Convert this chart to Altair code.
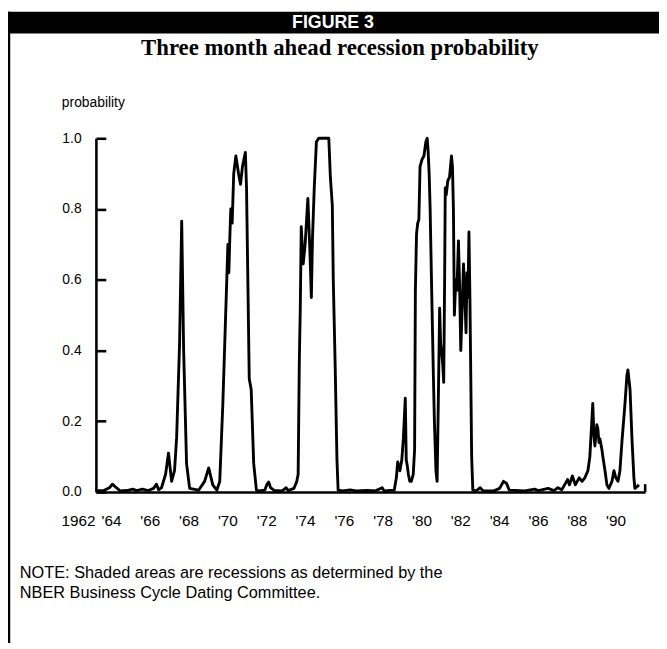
import altair as alt
import pandas as pd

header_text = "FIGURE 3"
title_text = "Three month ahead recession probability"
y_title = "probability"
note_line1 = "NOTE: Shaded areas are recessions as determined by the"
note_line2 = "NBER Business Cycle Dating Committee."

years = [
    1963.20, 1963.60, 1963.90, 1964.05, 1964.25, 1964.45, 1964.80, 1965.10, 1965.30, 1965.60,
    1965.90, 1966.17, 1966.32, 1966.43, 1966.58, 1966.79, 1966.94, 1967.10,
    1967.25, 1967.36, 1967.51, 1967.62, 1967.72, 1967.87, 1968.03, 1968.49, 1968.80, 1969.01,
    1969.22, 1969.43,
    1969.58, 1969.74, 1969.89, 1969.96, 1970.00, 1970.05, 1970.10, 1970.15, 1970.22, 1970.30,
    1970.41, 1970.55, 1970.65, 1970.75, 1970.90, 1970.96, 1971.02, 1971.10, 1971.20, 1971.33,
    1971.47,
    1971.60, 1971.90, 1972.00, 1972.10, 1972.20, 1972.40, 1972.80, 1973.00, 1973.10, 1973.40,
    1973.55,
    1973.62, 1973.68, 1973.73, 1973.78, 1973.88, 1973.98, 1974.12, 1974.22, 1974.30, 1974.36,
    1974.45, 1974.56, 1974.68, 1974.95, 1975.20, 1975.28, 1975.38, 1975.43, 1975.53, 1975.62,
    1975.68,
    1975.90, 1976.30, 1976.60, 1977.20, 1977.60, 1977.95, 1978.05, 1978.57,
    1978.68, 1978.75, 1978.86, 1978.96, 1979.04, 1979.14, 1979.19, 1979.24, 1979.30, 1979.37,
    1979.45, 1979.55, 1979.62, 1979.66, 1979.72, 1979.78, 1979.84, 1979.90, 1980.00, 1980.10,
    1980.20, 1980.27, 1980.32, 1980.37, 1980.42, 1980.50, 1980.58, 1980.64, 1980.72, 1980.78,
    1980.84, 1980.91, 1980.96, 1981.02, 1981.07, 1981.12, 1981.17, 1981.20, 1981.25, 1981.33,
    1981.42, 1981.52, 1981.57, 1981.62, 1981.67, 1981.74, 1981.80, 1981.88, 1981.94, 1982.00,
    1982.07, 1982.14, 1982.21, 1982.27, 1982.32, 1982.37, 1982.42, 1982.47, 1982.52, 1982.56,
    1982.62,
    1982.80, 1983.00, 1983.15, 1983.70, 1984.00, 1984.20, 1984.35, 1984.50, 1985.30, 1985.80,
    1986.00, 1986.50, 1986.80, 1987.00, 1987.20, 1987.50, 1987.60, 1987.75, 1987.90, 1988.10,
    1988.25,
    1988.39, 1988.55, 1988.65, 1988.75, 1988.80, 1988.86, 1988.91, 1989.01, 1989.06, 1989.12,
    1989.17, 1989.27, 1989.32, 1989.43, 1989.53, 1989.63, 1989.79, 1989.89, 1989.99, 1990.10,
    1990.20, 1990.30, 1990.46, 1990.56, 1990.61, 1990.72, 1990.82, 1990.92, 1990.97, 1991.08,
    1991.18,
]

probs = [
    0.003, 0.004, 0.012, 0.022, 0.012, 0.003, 0.004, 0.008, 0.004, 0.008,
    0.004, 0.010, 0.022, 0.006, 0.012, 0.05, 0.11, 0.03,
    0.06, 0.155, 0.42, 0.766, 0.40, 0.08, 0.01, 0.005, 0.03, 0.068,
    0.02, 0.005,
    0.03, 0.25, 0.51, 0.63, 0.70, 0.62, 0.72, 0.80, 0.76, 0.90,
    0.95, 0.90, 0.87, 0.92, 0.96, 0.86, 0.63, 0.32, 0.29, 0.08,
    0.005,
    0.003, 0.005, 0.02, 0.028, 0.012, 0.004, 0.003, 0.012, 0.004, 0.01,
    0.03,
    0.05, 0.37, 0.52, 0.75, 0.645, 0.70, 0.83, 0.69, 0.55, 0.72,
    0.86, 0.99, 1.0, 1.0, 1.0, 0.89, 0.81, 0.60, 0.35, 0.09,
    0.005,
    0.003, 0.006, 0.003, 0.004, 0.003, 0.012, 0.003, 0.005,
    0.04, 0.085, 0.06, 0.09, 0.15, 0.265, 0.09, 0.075, 0.05, 0.03,
    0.03, 0.05, 0.12, 0.57, 0.73, 0.76, 0.77, 0.92, 0.94, 0.95,
    0.99, 1.0, 0.96, 0.90, 0.80, 0.57, 0.35, 0.20, 0.06, 0.03,
    0.25, 0.52, 0.42, 0.39, 0.36, 0.31, 0.62, 0.86, 0.84, 0.88,
    0.89, 0.95, 0.92, 0.80, 0.50, 0.60, 0.57, 0.71, 0.58, 0.40,
    0.52, 0.645, 0.55, 0.45, 0.62, 0.55, 0.735, 0.55, 0.30, 0.10,
    0.005,
    0.003, 0.012, 0.003, 0.003, 0.01, 0.03, 0.025, 0.005, 0.003, 0.008,
    0.004, 0.01, 0.004, 0.012, 0.006, 0.035, 0.02, 0.045, 0.02, 0.04,
    0.03,
    0.04, 0.06, 0.10, 0.20, 0.25, 0.16, 0.13, 0.19, 0.18, 0.14,
    0.15, 0.12, 0.10, 0.06, 0.02, 0.01, 0.03, 0.06, 0.04, 0.03,
    0.06, 0.14, 0.25, 0.33, 0.345, 0.29, 0.15, 0.04, 0.01, 0.015,
    0.02,
]

x_label_years = [1962, 1964, 1966, 1968, 1970, 1972, 1974, 1976, 1978, 1980, 1982, 1984, 1986, 1988, 1990]
x_labels = ["1962", "'64", "'66", "'68", "'70", "'72", "'74", "'76", "'78", "'80", "'82", "'84", "'86", "'88", "'90"]
y_label_values = [0.0, 0.2, 0.4, 0.6, 0.8, 1.0]
x_domain = [1963.2, 1991.5]
end_tick = [0.0, 0.022]

W, H = 556, 358
SANS = "Liberation Sans"
SERIF = "Liberation Serif"

xscale = alt.Scale(domain=x_domain, nice=False, zero=False)
yscale = alt.Scale(domain=[0, 1], nice=False, zero=True)

df = pd.DataFrame({"year": years, "p": probs})
one = pd.DataFrame({"k": [0]})

# inward ticks on the y axis are drawn as the first 10px of each gridline
line = alt.Chart(df).mark_line(color="black", strokeWidth=2.9, strokeJoin="round").encode(
    x=alt.X("year:Q", scale=xscale,
            axis=alt.Axis(labels=False, ticks=False, grid=False, title=None,
                          domainColor="black", domainWidth=2.6)),
    y=alt.Y("p:Q", scale=yscale,
            axis=alt.Axis(values=y_label_values, format=".1f", ticks=False,
                          grid=True, gridColor="black", gridWidth=2.6, gridOpacity=1,
                          gridDash=[10, 3000],
                          labelPadding=15, labelFontSize=14, labelFont=SANS, labelColor="black",
                          domainColor="black", domainWidth=2.6,
                          title=y_title, titleAngle=0, titleAlign="left", titleBaseline="middle",
                          titleX=-35, titleY=-36, titleFontSize=14, titleFont=SANS,
                          titleFontWeight="normal", titleColor="black")),
)

endtick = alt.Chart(pd.DataFrame({"year": [x_domain[1], x_domain[1]], "p": end_tick})).mark_line(
    color="black", strokeWidth=2.6).encode(
    x=alt.X("year:Q", scale=xscale),
    y=alt.Y("p:Q", scale=yscale),
)

xl_df = pd.DataFrame({"year": x_label_years, "label": x_labels})

xlab = alt.Chart(xl_df.iloc[1:]).mark_text(
    fontSize=15.5, font=SANS, color="black", baseline="middle", align="center").encode(
    x=alt.X("year:Q", scale=xscale),
    y=alt.value(H + 29),
    text="label:N",
)

xlab_first = alt.Chart(xl_df.iloc[:1]).mark_text(
    fontSize=15.5, font=SANS, color="black", baseline="middle", align="center", dx=6).encode(
    x=alt.X("year:Q", scale=xscale),
    y=alt.value(H + 29),
    text="label:N",
)

bar = alt.Chart(one).mark_rect(color="black").encode(
    x=alt.value(-89), x2=alt.value(570), y=alt.value(-128), y2=alt.value(-106))

header = alt.Chart(one).mark_text(text=header_text, color="white", font=SANS, fontWeight="bold",
                                  fontSize=18, align="center", baseline="middle").encode(
    x=alt.value(240), y=alt.value(-117))

title = alt.Chart(one).mark_text(text=title_text, color="black", font=SERIF, fontWeight="bold",
                                 fontSize=23, align="center", baseline="middle").encode(
    x=alt.value(247), y=alt.value(-91))

border = alt.Chart(one).mark_rule(color="black", strokeWidth=2.5).encode(
    x=alt.value(-88), y=alt.value(-128), y2=alt.value(511))

note1 = alt.Chart(one).mark_text(text=note_line1, color="black", font=SANS, fontSize=16.5,
                                 align="left", baseline="middle").encode(
    x=alt.value(-77), y=alt.value(440))
note2 = alt.Chart(one).mark_text(text=note_line2, color="black", font=SANS, fontSize=16.5,
                                 align="left", baseline="middle").encode(
    x=alt.value(-77), y=alt.value(460))

chart = alt.layer(line, endtick, xlab, xlab_first, bar, header, title, border, note1, note2).properties(
    width=W, height=H,
    padding={"left": 89, "top": 128, "right": 14, "bottom": 150},
    autosize=alt.AutoSizeParams(type="none"),
    background="white",
).configure_view(stroke=None)

chart.save("out.html", embed_options={"renderer": "svg", "actions": False})
